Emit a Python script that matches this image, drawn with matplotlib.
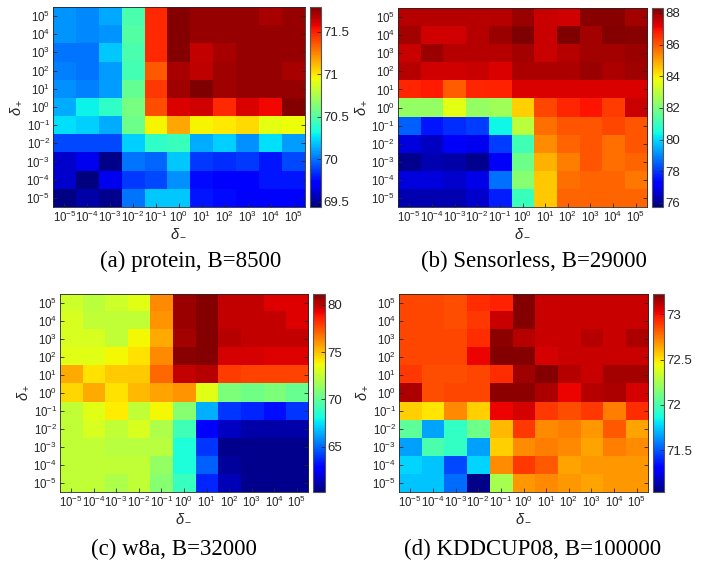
import matplotlib
matplotlib.use("Agg")
import matplotlib.pyplot as plt
import numpy as np

plt.rcParams["mathtext.fontset"] = "custom"
plt.rcParams["mathtext.rm"] = "Liberation Sans"
plt.rcParams["mathtext.it"] = "Liberation Sans:italic"
plt.rcParams["mathtext.default"] = "regular"
plt.rcParams["font.family"] = "Liberation Sans"

# rows: delta_+ from 1e5 (top) down to 1e-5; columns: delta_- from 1e-5 to 1e5
exponents = [-5, -4, -3, -2, -1, 0, 1, 2, 3, 4, 5]
y_exponents = [5, 4, 3, 2, 1, 0, -1, -2, -3, -4, -5]

protein = [
    [70.08, 70.05, 70.12, 70.47, 71.47, 71.78, 71.74, 71.74, 71.74, 71.70, 71.74],
    [70.08, 70.05, 70.08, 70.50, 71.47, 71.78, 71.74, 71.74, 71.74, 71.74, 71.74],
    [70.00, 70.00, 70.20, 70.47, 71.47, 71.78, 71.65, 71.70, 71.74, 71.74, 71.74],
    [70.03, 70.00, 70.10, 70.45, 71.35, 71.70, 71.66, 71.72, 71.74, 71.74, 71.70],
    [70.07, 70.03, 70.10, 70.55, 71.44, 71.72, 71.79, 71.72, 71.74, 71.74, 71.74],
    [70.13, 70.30, 70.40, 70.60, 71.38, 71.60, 71.62, 71.47, 71.60, 71.56, 71.78],
    [70.25, 70.22, 70.13, 70.57, 70.97, 71.16, 70.97, 71.00, 71.03, 70.91, 70.94],
    [69.90, 69.90, 69.90, 70.22, 70.40, 70.43, 70.13, 70.22, 70.07, 70.25, 70.10],
    [69.60, 69.67, 69.46, 70.00, 69.97, 70.20, 69.87, 69.84, 69.87, 69.78, 69.90],
    [69.60, 69.44, 69.67, 69.87, 69.90, 70.07, 69.76, 69.73, 69.73, 69.78, 69.78],
    [69.45, 69.53, 69.47, 70.00, 70.20, 70.20, 69.78, 69.76, 69.73, 69.73, 69.73],
]

sensorless = [
    [87.7, 87.7, 87.7, 87.7, 87.7, 88.0, 87.5, 87.4, 88.2, 88.2, 87.9],
    [87.9, 87.4, 87.4, 87.7, 88.0, 88.3, 87.5, 88.3, 87.9, 88.25, 88.2],
    [87.5, 88.0, 87.7, 87.7, 87.7, 87.9, 87.5, 87.7, 87.9, 87.9, 88.0],
    [87.7, 87.4, 87.4, 87.5, 87.3, 87.8, 87.8, 87.8, 88.0, 87.8, 87.95],
    [86.65, 86.8, 85.9, 86.65, 86.7, 87.3, 87.3, 87.3, 87.3, 87.3, 87.3],
    [82.4, 82.4, 83.6, 82.4, 82.6, 84.4, 86.2, 86.65, 86.9, 86.35, 87.5],
    [78.5, 77.6, 77.9, 78.1, 80.4, 83.0, 85.7, 86.0, 86.0, 86.2, 86.0],
    [76.8, 76.5, 77.1, 77.0, 78.1, 81.1, 85.3, 85.8, 86.0, 85.7, 86.0],
    [75.9, 76.3, 76.2, 75.9, 77.1, 81.8, 84.8, 85.5, 86.0, 85.7, 85.8],
    [76.8, 76.8, 76.6, 76.9, 78.7, 82.2, 84.5, 85.7, 85.8, 85.8, 85.6],
    [76.3, 76.3, 76.3, 76.6, 77.7, 81.0, 84.5, 85.8, 85.8, 85.8, 85.8],
]

w8a = [
    [72.8, 72.3, 72.8, 73.3, 76.2, 80.7, 81.1, 79.9, 79.9, 79.4, 79.4],
    [73.0, 72.5, 72.5, 72.5, 76.0, 80.7, 81.1, 79.9, 79.9, 79.9, 79.4],
    [73.0, 73.0, 72.5, 73.8, 75.5, 80.5, 81.1, 80.2, 79.9, 79.9, 79.9],
    [73.3, 73.3, 73.8, 74.3, 76.2, 81.0, 81.1, 79.6, 79.6, 79.4, 79.4],
    [75.5, 74.3, 74.8, 74.8, 77.0, 79.9, 80.2, 78.0, 77.8, 77.8, 77.8],
    [74.5, 75.5, 74.3, 75.2, 75.7, 76.0, 73.3, 70.7, 70.4, 70.7, 70.2],
    [72.5, 73.3, 74.0, 72.5, 73.8, 71.0, 66.5, 63.9, 63.6, 63.1, 63.9],
    [72.5, 73.0, 72.5, 73.0, 72.0, 69.2, 62.6, 61.5, 61.0, 61.0, 61.0],
    [72.5, 72.5, 72.2, 72.2, 72.2, 68.3, 63.9, 60.5, 60.5, 60.5, 60.5],
    [72.5, 72.5, 72.5, 72.5, 71.3, 68.3, 64.8, 60.7, 60.5, 60.5, 60.5],
    [72.5, 72.5, 72.0, 72.5, 71.0, 68.9, 63.6, 61.2, 60.5, 60.5, 60.5],
]

kddcup08 = [
    [72.87, 72.87, 72.85, 72.93, 72.95, 73.22, 73.09, 73.09, 73.09, 73.09, 73.09],
    [72.87, 72.87, 72.85, 72.90, 73.09, 73.22, 73.09, 73.09, 73.09, 73.09, 73.09],
    [72.87, 72.87, 72.87, 72.93, 73.20, 73.12, 73.09, 73.09, 73.12, 73.09, 73.14],
    [72.87, 72.87, 72.87, 73.02, 73.22, 73.22, 73.06, 73.09, 73.09, 73.09, 73.09],
    [72.90, 72.85, 72.85, 72.87, 72.93, 73.17, 73.22, 73.12, 73.09, 73.16, 73.16],
    [73.14, 72.85, 72.87, 72.87, 73.20, 73.20, 73.14, 73.02, 73.12, 73.14, 73.06],
    [72.55, 72.50, 72.71, 72.55, 73.02, 73.06, 72.90, 72.85, 72.90, 72.74, 72.93],
    [72.05, 71.67, 71.94, 72.10, 72.60, 72.90, 72.71, 72.74, 72.68, 72.82, 72.65],
    [71.66, 72.00, 71.94, 71.66, 72.55, 72.70, 72.74, 72.71, 72.65, 72.74, 72.70],
    [71.77, 71.74, 71.47, 71.77, 72.70, 72.90, 72.82, 72.65, 72.68, 72.68, 72.68],
    [71.74, 71.74, 71.55, 71.06, 72.25, 72.68, 72.71, 72.68, 72.65, 72.68, 72.68],
]

captions = ["(a) protein, B=8500", "(b) Sensorless, B=29000",
            "(c) w8a, B=32000", "(d) KDDCUP08, B=100000"]
color_limits = [(69.44, 71.79), (75.75, 88.3), (60.2, 81.2), (71.04, 73.23)]
cbar_ticks = [[69.5, 70, 70.5, 71, 71.5], [76, 78, 80, 82, 84, 86, 88],
              [65, 70, 75, 80], [71.5, 72, 72.5, 73]]
panels = [protein, sensorless, w8a, kddcup08]

# [left, bottom, width, height] in figure fractions
ax_rects = [[0.0734, 0.642, 0.349, 0.346], [0.5512, 0.642, 0.345, 0.344],
            [0.0831, 0.149, 0.3435, 0.343], [0.5526, 0.149, 0.345, 0.343]]
cbar_rects = [[0.4294, 0.642, 0.0152, 0.346], [0.903, 0.642, 0.0152, 0.344],
              [0.4335, 0.149, 0.0166, 0.343], [0.9044, 0.149, 0.0152, 0.343]]
caption_xy = [(0.264, 0.547), (0.74, 0.547), (0.241, 0.05), (0.737, 0.05)]

tick_color = "#262626"
fig = plt.figure(figsize=(7.22, 5.78), dpi=100)

for data, caption, (lo, hi), cticks, rect, crect, cxy in zip(
        panels, captions, color_limits, cbar_ticks, ax_rects, cbar_rects, caption_xy):
    ax = fig.add_axes(rect)
    im = ax.imshow(np.array(data), cmap="jet", vmin=lo, vmax=hi,
                   aspect="auto", interpolation="nearest")
    ax.set_xticks(range(len(exponents)))
    ax.set_xticklabels([f"$10^{{{e}}}$" for e in exponents])
    ax.set_yticks(range(len(y_exponents)))
    ax.set_yticklabels([f"$10^{{{e}}}$" for e in y_exponents])
    ax.tick_params(direction="in", length=3, width=0.6, top=False, right=True,
                   labelsize=8.3, colors=tick_color, pad=2)
    for s in ax.spines.values():
        s.set_linewidth(0.6)
        s.set_color(tick_color)
    ax.set_xlabel(r"$\mathit{\delta}_-$", fontsize=10.5, color=tick_color, labelpad=1)
    ax.set_ylabel(r"$\mathit{\delta}_+$", fontsize=10.5, color=tick_color, labelpad=2)

    cax = fig.add_axes(crect)
    cb = fig.colorbar(im, cax=cax, ticks=cticks)
    cb.ax.tick_params(direction="in", length=3, width=0.6, labelsize=9.5,
                      colors=tick_color, pad=2)
    cb.ax.set_yticklabels([f"{t:g}" for t in cticks])
    cb.outline.set_linewidth(0.8)
    cb.outline.set_edgecolor("#555555")

    fig.text(cxy[0], cxy[1], caption, ha="center", va="center",
             fontsize=16.5, family="Liberation Serif", color="black")

fig.savefig("out.png", dpi=100)
